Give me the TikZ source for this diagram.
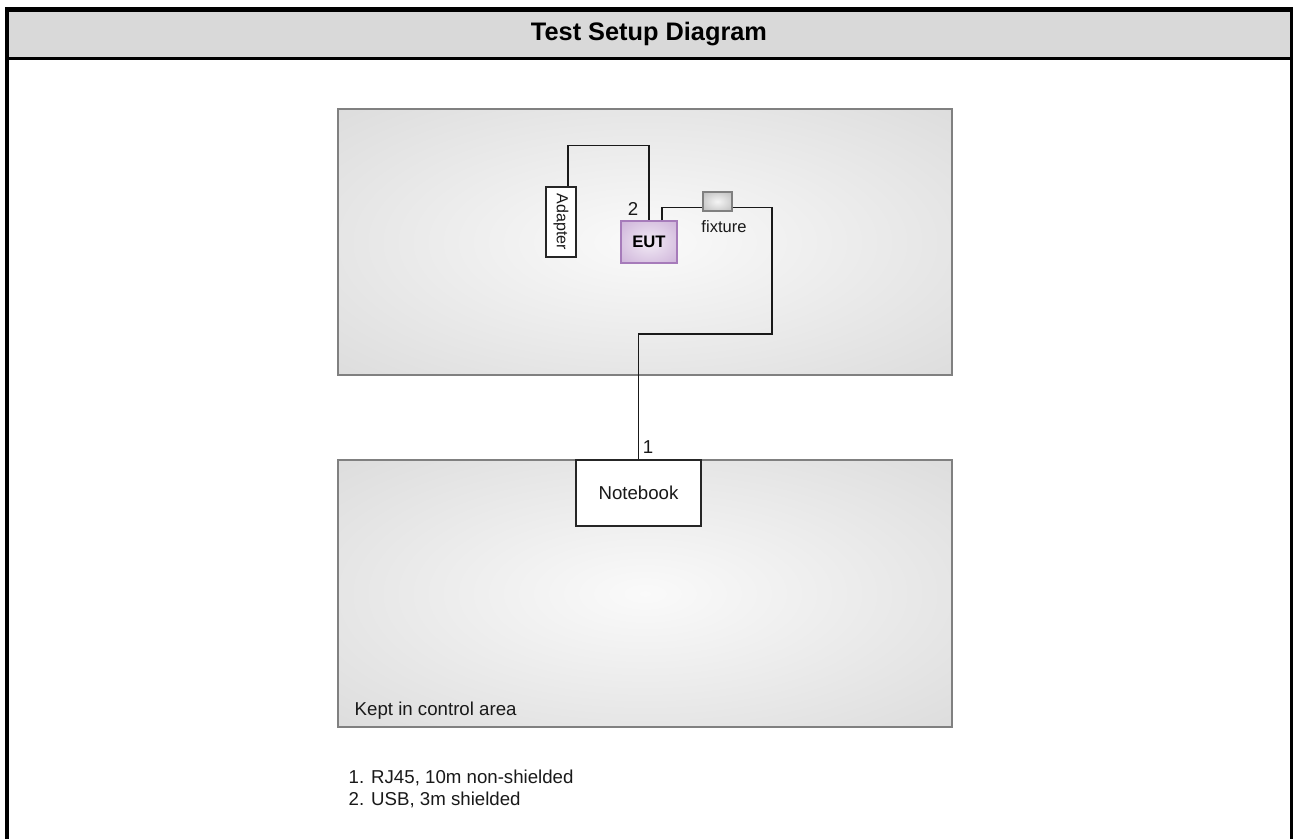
\documentclass[tikz,border=0pt]{standalone}
\usepackage{fontspec}
\setmainfont{Liberation Sans}
\usepackage{tikz}

\definecolor{headgrey}{HTML}{D9D9D9}
\definecolor{eutedge}{HTML}{A67BBA}
\definecolor{eutin}{HTML}{F2EBF5}
\definecolor{eutout}{HTML}{BF9CCE}
\pgfdeclareradialshading{roomshade}{\pgfpoint{0bp}{0bp}}{color(0bp)=(black!2); color(50bp)=(black!18)}
\pgfdeclareradialshading{eutshade}{\pgfpoint{0bp}{0bp}}{color(0bp)=(eutin); color(50bp)=(eutout)}
\pgfdeclareradialshading{fixshade}{\pgfpoint{0bp}{0bp}}{color(0bp)=(black!4); color(50bp)=(black!35)}

\begin{document}
\begin{tikzpicture}[x=0.75pt, y=-0.75pt,
		room/.style={draw=black!50, line width=1.5pt, shading=roomshade, minimum width=460.5pt, minimum height=199.5pt, inner sep=0pt},
		devbox/.style={draw=black!85, fill=white, line width=0.9pt, inner sep=0pt},
		cable/.style={draw=black!90, line width=1.1pt},
		txt/.style={font=\fontsize{14}{17}\selectfont, text=black!90}]
				\useasboundingbox (0,0) rectangle (1293,839);

				% frame and header
				\fill[headgrey] (9,12) rectangle (1290,57);
				\draw[line width=3.75pt] (5,9.5) -- (1293,9.5);
				\draw[line width=3pt] (7,7) -- (7,839);
				\draw[line width=2.25pt] (1291.5,7) -- (1291.5,839);
				\draw[line width=2.25pt] (9,58.5) -- (1290,58.5);
				\node[font=\bfseries\fontsize{19}{23}\selectfont] (title) at (649,34) {Test Setup Diagram};

				\node[room] (upperroom) at (645,242) {};
				\node[room, minimum height=200.25pt] (lowerroom) at (645,593.5) {};
				\node[txt, anchor=base west] (ctrlarea) at (350,715) {Kept in control area};

				\node[devbox, minimum width=22.5pt, minimum height=52.5pt] (adapter) at (561,222) {};
				\node[devbox, draw=eutedge, shading=eutshade, minimum width=42pt, minimum height=31.5pt, font=\bfseries\fontsize{12.5}{15}\selectfont] (eut) at (649,242) {EUT};
				\node[devbox, draw=black!50, shading=fixshade, minimum width=21.75pt, minimum height=14.25pt] (fixture) at (717.5,201.5) {};
				\node[devbox, minimum width=93.75pt, minimum height=49.5pt, txt] (notebook) at (638.5,493) {Notebook};

				\draw[cable] ([xshift=5.25pt]adapter.north) -- ++(0,-41) -| (eut.north);
				\draw[cable] ([xshift=9.75pt]eut.north) |- ([yshift=-4.5pt]fixture.west);
				\draw[cable] ([yshift=-4.5pt]fixture.east) -| (772,334) -| (notebook.north);

				\node[rotate=-90, font=\fontsize{12}{14}\selectfont, text=black!90] (adaptertext) at (adapter.center) {Adapter};
				\node[font=\fontsize{12.4}{15}\selectfont, text=black!90, anchor=base] (fixturetext) at (724,232) {fixture};
				\node[txt] (cablea) at (648,447) {1};
				\node[txt] (cableb) at (633,209) {2};

				\node[txt, anchor=base west] (notea) at (344,783) {1. RJ45, 10m non-shielded};
				\node[txt, anchor=base west] (noteb) at (344,805) {2. USB, 3m shielded};
			\end{tikzpicture}
\end{document}
